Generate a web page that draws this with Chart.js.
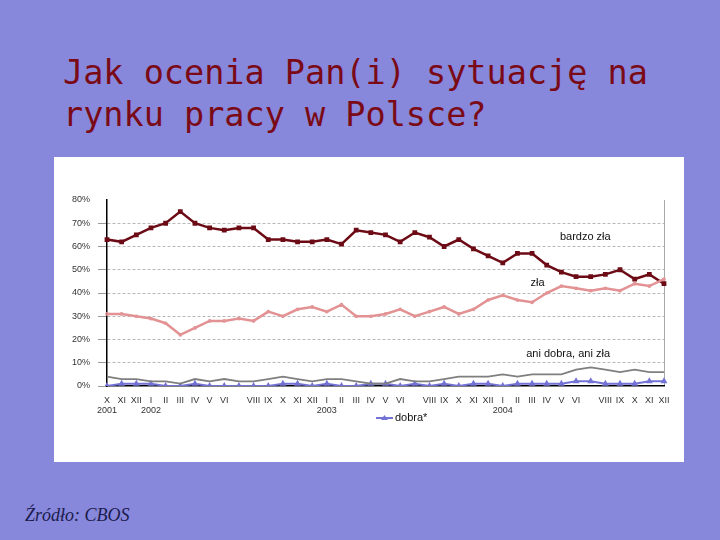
<!DOCTYPE html>
<html lang="pl">
<head>
    <meta charset="UTF-8">
    <title>Jak ocenia Pan(i) sytuację na rynku pracy w Polsce?</title>
    <script src="https://cdn.jsdelivr.net/npm/chart.js"></script>
    <style>
        body {
            margin: 0;
            width: 720px;
            height: 540px;
            background: #8787dc;
            position: relative;
            overflow: hidden;
        }
        .title {
            position: absolute;
            left: 63px;
            top: 52px;
            font-family: 'DejaVu Sans Mono', monospace;
            font-size: 33.5px;
            line-height: 42px;
            color: #7a0a16;
            white-space: pre;
        }
        .box {
            position: absolute;
            left: 54px;
            top: 157px;
            width: 630px;
            height: 305px;
            background: #fff;
        }
        .source {
            position: absolute;
            left: 25px;
            top: 505px;
            font-family: 'Liberation Serif', serif;
            font-style: italic;
            font-size: 18px;
            color: #1c1c4c;
        }
    </style>
</head>
<body>
    <div class="title">Jak ocenia Pan(i) sytuację na
rynku pracy w Polsce?</div>
    <div class="box">
        <canvas id="chart" width="630" height="305"></canvas>
    </div>
    <div class="source">Źródło: CBOS</div>

    <script>
        // X 2001 .. XII 2004, VII not labelled in the original
        const months = ['X', 'XI', 'XII', 'I', 'II', 'III', 'IV', 'V', 'VI', '', 'VIII', 'IX', 'X', 'XI', 'XII',
            'I', 'II', 'III', 'IV', 'V', 'VI', '', 'VIII', 'IX', 'X', 'XI', 'XII',
            'I', 'II', 'III', 'IV', 'V', 'VI', '', 'VIII', 'IX', 'X', 'XI', 'XII'];
        const years = ['2001', '', '', '2002', '', '', '', '', '', '', '', '', '', '', '',
            '2003', '', '', '', '', '', '', '', '', '', '', '',
            '2004', '', '', '', '', '', '', '', '', '', '', ''];

        const bardzoZla = [63, 62, 65, 68, 70, 75, 70, 68, 67, 68, 68, 63, 63, 62, 62, 63, 61, 67, 66, 65,
            62, 66, 64, 60, 63, 59, 56, 53, 57, 57, 52, 49, 47, 47, 48, 50, 46, 48, 44];
        const zla = [31, 31, 30, 29, 27, 22, 25, 28, 28, 29, 28, 32, 30, 33, 34, 32, 35, 30, 30, 31,
            33, 30, 32, 34, 31, 33, 37, 39, 37, 36, 40, 43, 42, 41, 42, 41, 44, 43, 46];
        const aniDobra = [4, 3, 3, 2, 2, 1, 3, 2, 3, 2, 2, 3, 4, 3, 2, 3, 3, 2, 1, 1,
            3, 2, 2, 3, 4, 4, 4, 5, 4, 5, 5, 5, 7, 8, 7, 6, 7, 6, 6];
        const dobra = [0, 1, 1, 1, 0, 0, 1, 0, 0, 0, 0, 0, 1, 1, 0, 1, 0, 0, 1, 1,
            0, 1, 0, 1, 0, 1, 1, 0, 1, 1, 1, 1, 2, 2, 1, 1, 1, 2, 2];

        const yTicks = [0, 10, 20, 30, 40, 50, 60, 70, 80];

        // labels written inside the plot: [text, category index, value]
        const seriesNotes = [
            ['bardzo zła', 30.9, 64],
            ['zła', 28.9, 44.5],
            ['ani dobra, ani zła', 28.6, 13.7]
        ];

        const labels = months.map((m, i) => years[i] ? [m, years[i]] : m);
        const font = 'Liberation Sans, Arial, sans-serif';

        const notesPlugin = {
            id: 'notes',
            afterDatasetsDraw(chart) {
                const ctx = chart.ctx;
                const x = chart.scales.x;
                const y = chart.scales.y;
                ctx.save();
                ctx.font = '11px ' + font;
                ctx.fillStyle = '#111';
                ctx.textBaseline = 'middle';
                ctx.textAlign = 'left';
                seriesNotes.forEach(n => {
                    ctx.fillText(n[0], x.getPixelForValue(n[1]), y.getPixelForValue(n[2]));
                });

                // small key for "dobra*" under the axis
                const lx = x.getPixelForValue(18.35);
                const ly = chart.chartArea.bottom + 32;
                ctx.strokeStyle = '#7373d6';
                ctx.fillStyle = '#7373d6';
                ctx.lineWidth = 2;
                ctx.beginPath();
                ctx.moveTo(lx, ly);
                ctx.lineTo(lx + 17, ly);
                ctx.stroke();
                ctx.beginPath();
                ctx.moveTo(lx + 8.5, ly - 3);
                ctx.lineTo(lx + 12, ly + 2);
                ctx.lineTo(lx + 5, ly + 2);
                ctx.closePath();
                ctx.fill();
                ctx.fillStyle = '#111';
                ctx.font = '11px ' + font;
                ctx.fillText('dobra*', lx + 19, ly);
                ctx.restore();
            }
        };

        new Chart(document.getElementById('chart'), {
            type: 'line',
            data: {
                labels: labels,
                datasets: [{
                    label: 'ani dobra, ani zła',
                    data: aniDobra,
                    borderColor: '#7f7f7f',
                    borderWidth: 1.8,
                    pointRadius: 0,
                    tension: 0
                }, {
                    label: 'dobra*',
                    data: dobra,
                    borderColor: '#7373d6',
                    backgroundColor: '#7373d6',
                    borderWidth: 2,
                    pointStyle: 'triangle',
                    pointRadius: 2,
                    tension: 0
                }, {
                    label: 'zła',
                    data: zla,
                    borderColor: '#e39294',
                    backgroundColor: '#e8a3a5',
                    borderWidth: 2.5,
                    pointRadius: 0.6,
                    tension: 0
                }, {
                    label: 'bardzo zła',
                    data: bardzoZla,
                    borderColor: '#6c0b15',
                    backgroundColor: '#6c0b15',
                    borderWidth: 2.5,
                    pointStyle: 'rect',
                    pointRadius: 1.6,
                    tension: 0
                }]
            },
            options: {
                responsive: false,
                animation: false,
                layout: { padding: { top: 43, right: 20, left: 0, bottom: 0 } },
                plugins: {
                    legend: { display: false },
                    tooltip: { enabled: false }
                },
                scales: {
                    x: {
                        offset: false,
                        afterFit: s => { s.height = 76; },
                        grid: {
                            drawTicks: false,
                            color: c => c.index === months.length - 1 ? '#a8a8a8' : 'rgba(0,0,0,0)'
                        },
                        border: { color: '#000', width: 1.5 },
                        ticks: {
                            autoSkip: false,
                            maxRotation: 0,
                            padding: 9,
                            color: '#333',
                            font: { family: font, size: 9, lineHeight: 1.15 }
                        }
                    },
                    y: {
                        min: 0,
                        max: 80,
                        afterFit: s => { s.width = 53; },
                        afterBuildTicks: s => { s.ticks = yTicks.map(v => ({ value: v })); },
                        grid: {
                            tickLength: 9,
                            color: c => (c.tick && c.tick.value > 0 && c.tick.value < 80) ? '#b8b8b8' : 'rgba(0,0,0,0)',
                            tickColor: c => (c.tick && c.tick.value < 80) ? '#999' : 'rgba(0,0,0,0)'
                        },
                        border: { color: '#000', width: 1.5, dash: [3, 2] },
                        ticks: {
                            padding: 8,
                            color: '#333',
                            font: { family: font, size: 9 },
                            callback: v => v + '%'
                        }
                    }
                }
            },
            plugins: [notesPlugin]
        });
    </script>
</body>
</html>
